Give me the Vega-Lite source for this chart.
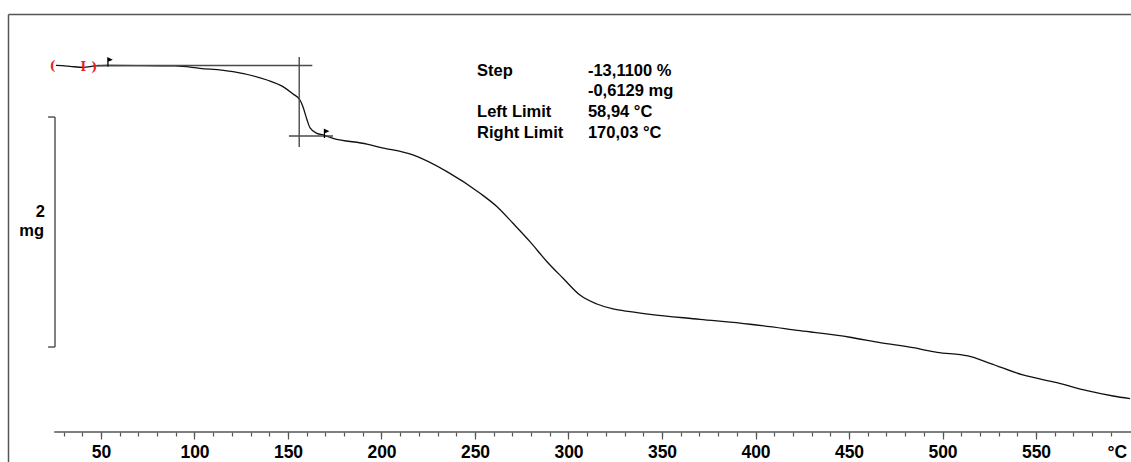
{
  "$schema": "https://vega.github.io/schema/vega-lite/v6.json",
  "width": 1123,
  "height": 448,
  "autosize": {"type": "none"},
  "padding": {"left": 8, "top": 14, "right": 0, "bottom": 0},
  "background": "white",
  "config": {
    "view": {"stroke": null},
    "font": "Liberation Sans",
    "axis": {"grid": false}
  },
  "data": {"values": [{}]},
  "datasets": {
    "tga": [
      {"T": 25.9, "mass": 4.677}, {"T": 33.4, "mass": 4.668}, {"T": 40.4, "mass": 4.659},
      {"T": 46.8, "mass": 4.671}, {"T": 53.2, "mass": 4.675}, {"T": 70.9, "mass": 4.674},
      {"T": 89.6, "mass": 4.672}, {"T": 102.9, "mass": 4.651}, {"T": 120.6, "mass": 4.621},
      {"T": 138.8, "mass": 4.549}, {"T": 147.3, "mass": 4.491}, {"T": 152.7, "mass": 4.427},
      {"T": 156.4, "mass": 4.375}, {"T": 158.0, "mass": 4.317}, {"T": 160.2, "mass": 4.201},
      {"T": 161.8, "mass": 4.132}, {"T": 165.5, "mass": 4.085}, {"T": 168.7, "mass": 4.071},
      {"T": 174.1, "mass": 4.042}, {"T": 192.2, "mass": 3.992}, {"T": 199.2, "mass": 3.964},
      {"T": 216.8, "mass": 3.897}, {"T": 235.0, "mass": 3.752}, {"T": 252.7, "mass": 3.564},
      {"T": 261.8, "mass": 3.447}, {"T": 270.3, "mass": 3.303}, {"T": 279.4, "mass": 3.143},
      {"T": 288.5, "mass": 2.969}, {"T": 297.1, "mass": 2.825}, {"T": 306.1, "mass": 2.679},
      {"T": 315.2, "mass": 2.601}, {"T": 323.8, "mass": 2.558}, {"T": 332.9, "mass": 2.534},
      {"T": 343.6, "mass": 2.511}, {"T": 370.3, "mass": 2.468}, {"T": 397.1, "mass": 2.425},
      {"T": 423.8, "mass": 2.369}, {"T": 450.5, "mass": 2.312}, {"T": 466.6, "mass": 2.265},
      {"T": 484.2, "mass": 2.221}, {"T": 497.1, "mass": 2.181}, {"T": 513.6, "mass": 2.149},
      {"T": 525.4, "mass": 2.085}, {"T": 543.0, "mass": 1.984}, {"T": 561.2, "mass": 1.917},
      {"T": 577.3, "mass": 1.847}, {"T": 591.2, "mass": 1.801}, {"T": 600.3, "mass": 1.778}
    ],
    "evaluation": [
      {"part": "upper tangent", "t1": 48, "t2": 163, "m1": 4.675, "m2": 4.675},
      {"part": "inflection", "t1": 156, "t2": 156, "m1": 4.749, "m2": 3.966},
      {"part": "lower tangent", "t1": 150.5, "t2": 174.1, "m1": 4.0621, "m2": 4.0621},
      {"part": "scale bar", "t1": 25.4, "t2": 25.4, "m1": 2.227, "m2": 4.227},
      {"part": "scale bar top", "t1": 21.7, "t2": 25.4, "m1": 4.227, "m2": 4.227},
      {"part": "scale bar bottom", "t1": 21.7, "t2": 25.4, "m1": 2.227, "m2": 2.227}
    ],
    "markers": [
      {"T": 24.1, "mass": 4.675, "sym": "("},
      {"T": 40.5, "mass": 4.66, "sym": "I"},
      {"T": 46.4, "mass": 4.665, "sym": ")"}
    ],
    "limits": [
      {"T": 53.7, "mass": 4.703},
      {"T": 169.5, "mass": 4.082}
    ]
  },
  "resolve": {"axis": {"x": "independent", "y": "independent"}},
  "layer": [
    {
      "data": {"name": "tga"},
      "mark": {"type": "line", "color": "#111", "strokeWidth": 1.3, "interpolate": "monotone"},
      "encoding": {
        "x": {"field": "T", "type": "quantitative",
              "scale": {"domain": [0.27, 600.8], "nice": false, "zero": false},
              "axis": {"orient": "top", "domain": true, "domainColor": "#555", "domainWidth": 1.5,
                       "ticks": false, "labels": false, "title": null}},
        "y": {"field": "mass", "type": "quantitative",
              "scale": {"domain": [1.227, 5.123], "nice": false, "zero": false},
              "axis": {"orient": "left", "domain": true, "domainColor": "#555", "domainWidth": 1.5,
                       "ticks": false, "labels": false, "title": null}}
      }
    },
    {
      "mark": {"type": "rule", "color": "#555", "strokeWidth": 1.5},
      "encoding": {
        "x": {"datum": 25, "type": "quantitative",
              "scale": {"domain": [0.27, 600.8], "nice": false, "zero": false},
              "axis": {"orient": "bottom", "offset": -30, "domain": false, "labels": false, "title": null,
                       "values": [30, 40, 50, 60, 70, 80, 90, 100, 110, 120, 130, 140, 150, 160, 170, 180, 190, 200,
                                  210, 220, 230, 240, 250, 260, 270, 280, 290, 300, 310, 320, 330, 340, 350, 360, 370, 380,
                                  390, 400, 410, 420, 430, 440, 450, 460, 470, 480, 490, 500, 510, 520, 530, 540, 550, 560,
                                  570, 580, 590],
                       "tickSize": 4, "tickColor": "#555", "tickWidth": 1.2}},
        "x2": {"datum": 600.8},
        "y": {"datum": 1.488, "type": "quantitative",
              "scale": {"domain": [1.227, 5.123], "nice": false, "zero": false}, "axis": null}
      }
    },
    {
      "data": {"name": "evaluation"},
      "mark": {"type": "rule", "color": "#4a4a4a", "strokeWidth": 1.4},
      "encoding": {
        "x": {"field": "t1", "type": "quantitative",
              "scale": {"domain": [0.27, 600.8], "nice": false, "zero": false},
              "axis": {"orient": "bottom", "offset": -30, "domain": false, "title": null,
                       "values": [50, 100, 150, 200, 250, 300, 350, 400, 450, 500, 550],
                       "tickSize": 7, "tickColor": "#555", "tickWidth": 1.2,
                       "labelFont": "Liberation Sans", "labelFontSize": 17.5, "labelFontWeight": "bold",
                       "labelColor": "#000", "labelPadding": 4}},
        "x2": {"field": "t2"},
        "y": {"field": "m1", "type": "quantitative",
              "scale": {"domain": [1.227, 5.123], "nice": false, "zero": false}, "axis": null},
        "y2": {"field": "m2"}
      }
    },
    {
      "data": {"name": "markers"},
      "mark": {"type": "text", "color": "#e8201c", "fontSize": 12, "fontWeight": "bold", "font": "DejaVu Serif", "baseline": "middle", "align": "center"},
      "encoding": {
        "x": {"field": "T", "type": "quantitative",
              "scale": {"domain": [0.27, 600.8], "nice": false, "zero": false}, "axis": null},
        "y": {"field": "mass", "type": "quantitative",
              "scale": {"domain": [1.227, 5.123], "nice": false, "zero": false}, "axis": null},
        "text": {"field": "sym"}
      }
    },
    {
      "data": {"name": "limits"},
      "mark": {"type": "point", "shape": "M0,1L0,-1L0.8,-0.6L0,-0.25Z", "size": 72, "filled": true,
               "color": "#000", "stroke": "#000", "strokeWidth": 1.3, "opacity": 1},
      "encoding": {
        "x": {"field": "T", "type": "quantitative",
              "scale": {"domain": [0.27, 600.8], "nice": false, "zero": false}, "axis": null},
        "y": {"field": "mass", "type": "quantitative",
              "scale": {"domain": [1.227, 5.123], "nice": false, "zero": false}, "axis": null}
      }
    },
    {
      "mark": {"type": "text", "text": "2", "align": "right", "baseline": "alphabetic",
               "fontSize": 16.5, "fontWeight": "bold", "color": "#000"},
      "encoding": {
        "x": {"datum": 20.05, "type": "quantitative",
              "scale": {"domain": [0.27, 600.8], "nice": false, "zero": false}, "axis": null},
        "y": {"datum": 3.358, "type": "quantitative",
              "scale": {"domain": [1.227, 5.123], "nice": false, "zero": false}, "axis": null}
      }
    },
    {
      "mark": {"type": "text", "text": "mg", "align": "right", "baseline": "alphabetic",
               "fontSize": 16.5, "fontWeight": "bold", "color": "#000"},
      "encoding": {
        "x": {"datum": 19.5, "type": "quantitative",
              "scale": {"domain": [0.27, 600.8], "nice": false, "zero": false}, "axis": null},
        "y": {"datum": 3.193, "type": "quantitative",
              "scale": {"domain": [1.227, 5.123], "nice": false, "zero": false}, "axis": null}
      }
    },
    {
      "mark": {"type": "text", "text": "Step",
               "align": "left", "baseline": "alphabetic", "fontSize": 16.5, "fontWeight": "bold", "color": "#000"},
      "encoding": {
        "x": {"datum": 251.1, "type": "quantitative",
              "scale": {"domain": [0.27, 600.8], "nice": false, "zero": false}, "axis": null},
        "y": {"datum": 4.588, "type": "quantitative",
              "scale": {"domain": [1.227, 5.123], "nice": false, "zero": false}, "axis": null}
      }
    },
    {
      "mark": {"type": "text", "text": ["Left Limit", "Right Limit"], "lineHeight": 20.7,
               "align": "left", "baseline": "alphabetic", "fontSize": 16.5, "fontWeight": "bold", "color": "#000"},
      "encoding": {
        "x": {"datum": 251.1, "type": "quantitative",
              "scale": {"domain": [0.27, 600.8], "nice": false, "zero": false}, "axis": null},
        "y": {"datum": 4.228, "type": "quantitative",
              "scale": {"domain": [1.227, 5.123], "nice": false, "zero": false}, "axis": null}
      }
    },
    {
      "mark": {"type": "text", "text": ["-13,1100 %", "-0,6129 mg", "58,94 °C", "170,03 °C"], "lineHeight": 20.7,
               "align": "left", "baseline": "alphabetic", "fontSize": 16.5, "fontWeight": "bold", "color": "#000"},
      "encoding": {
        "x": {"datum": 310.4, "type": "quantitative",
              "scale": {"domain": [0.27, 600.8], "nice": false, "zero": false}, "axis": null},
        "y": {"datum": 4.588, "type": "quantitative",
              "scale": {"domain": [1.227, 5.123], "nice": false, "zero": false}, "axis": null}
      }
    },
    {
      "mark": {"type": "text", "text": "°C", "align": "right", "baseline": "alphabetic",
               "fontSize": 17.5, "fontWeight": "bold", "color": "#000"},
      "encoding": {
        "x": {"datum": 598.7, "type": "quantitative",
              "scale": {"domain": [0.27, 600.8], "nice": false, "zero": false}, "axis": null},
        "y": {"datum": 1.262, "type": "quantitative",
              "scale": {"domain": [1.227, 5.123], "nice": false, "zero": false}, "axis": null}
      }
    }
  ]
}
